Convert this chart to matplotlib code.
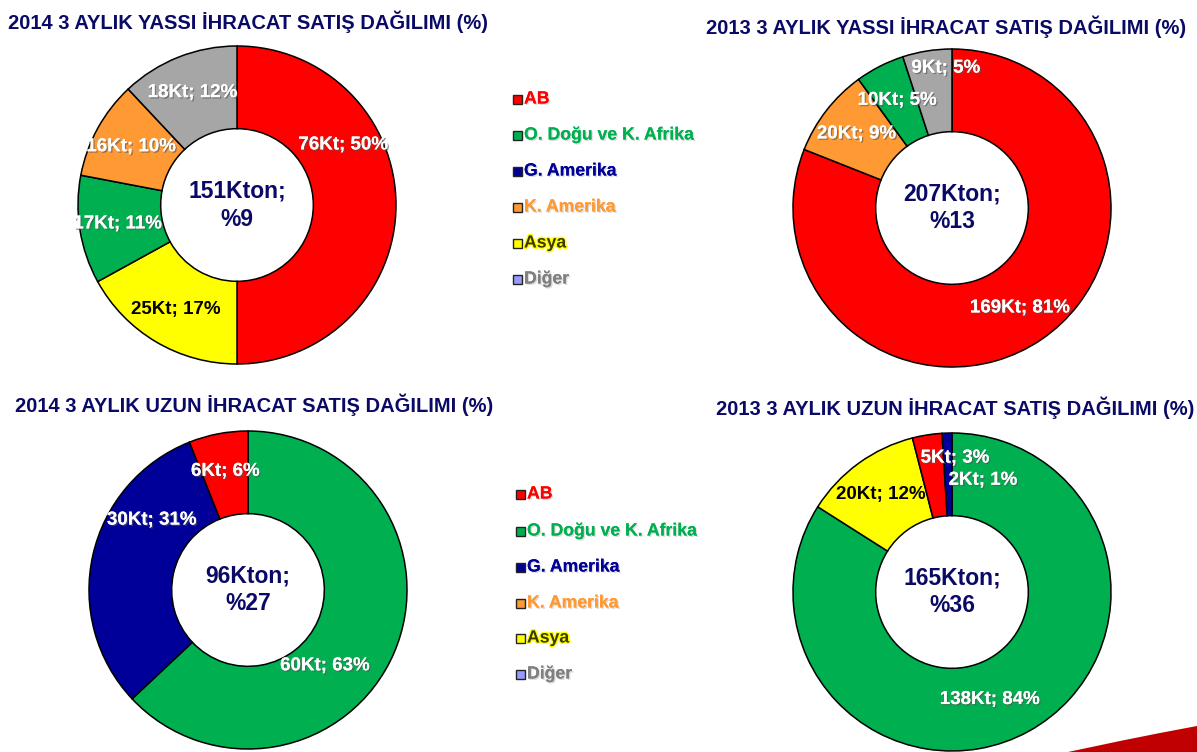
import numpy as np
import matplotlib.pyplot as plt
import matplotlib.patheffects as pe
from matplotlib.patches import Rectangle, Polygon

plt.rcParams['font.family'] = ['Liberation Sans', 'DejaVu Sans']

W, H = 1197, 752
NAVY_TEXT = '#0a0a66'

# legend entries
legend_names = ['AB', 'O. Doğu ve K. Afrika', 'G. Amerika', 'K. Amerika', 'Asya', 'Diğer']
wedge_colors = {'AB': '#ff0000', 'O. Doğu ve K. Afrika': '#00b050', 'G. Amerika': '#000099',
                'K. Amerika': '#ff9933', 'Asya': '#ffff00', 'Diğer': '#a6a6a6'}
legend_box_colors = ['#ff0000', '#00b050', '#000099', '#ff9933', '#ffff00', '#9999ff']
legend_text_colors = ['#ff0000', '#00b050', '#000099', '#ff9933', '#3a3a00', '#808080']

# 2014 yassi
yassi14_regions = ['AB', 'Asya', 'O. Doğu ve K. Afrika', 'K. Amerika', 'Diğer']
yassi14_kt = [76, 25, 17, 16, 18]
yassi14_pct = [50, 17, 11, 10, 12]
yassi14_total = ['151Kton;', '%9']

# 2013 yassi
yassi13_regions = ['AB', 'K. Amerika', 'O. Doğu ve K. Afrika', 'Diğer']
yassi13_kt = [169, 20, 10, 9]
yassi13_pct = [81, 9, 5, 5]
yassi13_total = ['207Kton;', '%13']

# 2014 uzun
uzun14_regions = ['O. Doğu ve K. Afrika', 'G. Amerika', 'AB']
uzun14_kt = [60, 30, 6]
uzun14_pct = [63, 31, 6]
uzun14_total = ['96Kton;', '%27']

# 2013 uzun
uzun13_regions = ['O. Doğu ve K. Afrika', 'Asya', 'AB', 'G. Amerika']
uzun13_kt = [138, 20, 5, 2]
uzun13_pct = [84, 12, 3, 1]
uzun13_total = ['165Kton;', '%36']

fig = plt.figure(figsize=(W / 100, H / 100), dpi=100)
ax = fig.add_axes([0, 0, 1, 1])


def donut(cx, cy, regions, kt, pct, total, title, title_x, title_y, moved=None):
    R = 159
    cy = H - cy
    ax.pie(pct, colors=[wedge_colors[r] for r in regions], center=(cx, cy), radius=R,
           startangle=90, counterclock=False,
           wedgeprops=dict(width=R * 0.52, edgecolor='black', linewidth=1.1))
    moved = moved or {}
    start = 0.0
    for i, (k, p, reg) in enumerate(zip(kt, pct, regions)):
        mid = start + p / 2.0
        start += p
        ang = np.radians(90 - mid * 3.6)
        dist = R * 0.76
        if i in moved:
            ang = np.radians(moved[i][0])
            dist = moved[i][1]
        col = 'black' if reg == 'Asya' else 'white'
        t = ax.text(cx + dist * np.cos(ang), cy + dist * np.sin(ang), f'{k}Kt; {p}%',
                    ha='center', va='center', fontsize=13.5, fontweight='bold', color=col)
        if col == 'white':
            t.set_path_effects([pe.withSimplePatchShadow(offset=(1, -1), shadow_rgbFace='#555555', alpha=0.6),
                                pe.Normal()])
    ax.text(cx, cy + 14, total[0], ha='center', va='center', fontsize=16.5,
            fontweight='bold', color=NAVY_TEXT)
    ax.text(cx, cy - 14, total[1], ha='center', va='center', fontsize=16.5,
            fontweight='bold', color=NAVY_TEXT)
    ax.text(title_x, H - title_y, title, ha='left', va='center', fontsize=14.5,
            fontweight='bold', color=NAVY_TEXT)


def legend(x, ys):
    for name, bc, tc, y in zip(legend_names, legend_box_colors, legend_text_colors, ys):
        ax.add_patch(Rectangle((x - 4.5, H - y - 4.5), 9, 9, facecolor=bc, edgecolor='#222222', lw=1))
        t = ax.text(x + 7, H - y, name, ha='left', va='center', fontsize=12.7,
                    fontweight='bold', color=tc)
        if name == 'Asya':
            t.set_path_effects([pe.withStroke(linewidth=2, foreground='#ffff00')])
        else:
            t.set_path_effects([pe.withSimplePatchShadow(offset=(1, -1), shadow_rgbFace='#bbbbbb', alpha=0.5),
                                pe.Normal()])


donut(237, 205, yassi14_regions, yassi14_kt, yassi14_pct, yassi14_total,
      '2014 3 AYLIK YASSI İHRACAT SATIŞ DAĞILIMI (%)', 8, 22, moved={0: (29.5, 122)})
donut(952, 208, yassi13_regions, yassi13_kt, yassi13_pct, yassi13_total,
      '2013 3 AYLIK YASSI İHRACAT SATIŞ DAĞILIMI (%)', 706, 27, moved={3: (92.5, 140)})
donut(248, 590, uzun14_regions, uzun14_kt, uzun14_pct, uzun14_total,
      '2014 3 AYLIK UZUN İHRACAT SATIŞ DAĞILIMI (%)', 15, 405,
      moved={0: (-44.6, 108), 1: (144, 119)})
donut(952, 592, uzun13_regions, uzun13_kt, uzun13_pct, uzun13_total,
      '2013 3 AYLIK UZUN İHRACAT SATIŞ DAĞILIMI (%)', 716, 408,
      moved={0: (-70.6, 114), 2: (88.7, 134), 3: (74.5, 116)})

legend(517, [99, 135, 171, 207, 243, 279])
legend(520, [494, 531, 567, 603, 638, 674])

# red swoosh in the corner
ax.add_patch(Polygon([(1068, 0), (1120, 11), (1160, 19), (1197, 26), (1197, 0)],
                     closed=True, facecolor='#c00000', edgecolor='none'))

ax.set_xlim(0, W)
ax.set_ylim(0, H)
ax.set_aspect('equal')
ax.axis('off')

fig.savefig('out.png', dpi=100)
